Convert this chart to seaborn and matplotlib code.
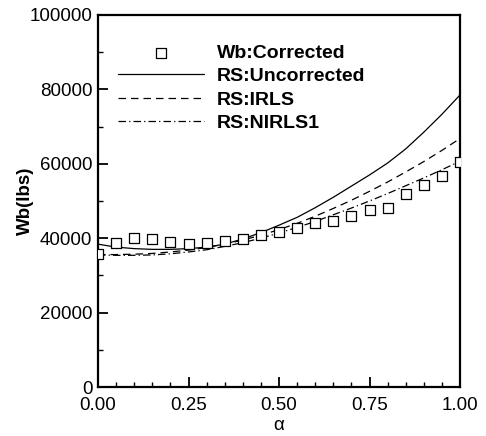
import numpy as np
import pandas as pd
import matplotlib
matplotlib.use("Agg")
import matplotlib.pyplot as plt
import seaborn as sns
from matplotlib.ticker import MultipleLocator

alpha = [0.00, 0.05, 0.10, 0.15, 0.20, 0.25, 0.30, 0.35, 0.40, 0.45, 0.50,
         0.55, 0.60, 0.65, 0.70, 0.75, 0.80, 0.85, 0.90, 0.95, 1.00]
wb_corrected = [35800, 38600, 40000, 39700, 39000, 38500, 38600, 39200, 39800, 40900, 41600,
                42700, 44000, 44700, 46100, 47600, 48200, 51800, 54200, 56700, 60500]
rs_uncorrected = [38400, 37600, 37200, 37000, 37000, 37200, 37600, 38400, 39800, 41500, 43500,
                  45600, 48200, 51000, 54000, 57000, 60200, 64000, 68500, 73300, 78500]
rs_irls = [35600, 35600, 35700, 35900, 36300, 36800, 37500, 38400, 39500, 40800, 42300,
           44000, 45900, 48000, 50200, 52600, 55100, 57800, 60600, 63600, 66800]
rs_nirls1 = [35500, 35400, 35400, 35500, 35800, 36300, 36900, 37800, 38800, 40000, 41400,
             42900, 44500, 46300, 48100, 50000, 52000, 54100, 56200, 58400, 60700]

sns.set_style("ticks", {'axes.edgecolor': 'black', 'text.color': 'black',
                        'axes.labelcolor': 'black', 'xtick.color': 'black',
                        'ytick.color': 'black'})
plt.rcParams['font.family'] = ['Liberation Sans', 'DejaVu Sans']
plt.rcParams['axes.linewidth'] = 1.6

fig = plt.figure(figsize=(4.86, 4.36), dpi=100)
ax = fig.add_axes([98/486, 49/436, 362/486, 372/436])

sns.scatterplot(x=alpha, y=wb_corrected, ax=ax, marker='s', s=55,
                facecolor='white', edgecolor='black', linewidth=0.9,
                label='Wb:Corrected', zorder=3)
sns.lineplot(x=alpha, y=rs_uncorrected, ax=ax, color='black', linewidth=0.9,
             label='RS:Uncorrected')
sns.lineplot(x=alpha, y=rs_irls, ax=ax, color='black', linewidth=0.9,
             label='RS:IRLS')
ax.lines[-1].set_dashes([6, 4])
sns.lineplot(x=alpha, y=rs_nirls1, ax=ax, color='black', linewidth=0.9,
             label='RS:NIRLS1')
ax.lines[-1].set_dashes([6, 2.5, 1, 2.5])

ax.set_xlim(0, 1)
ax.set_ylim(0, 100000)
ax.xaxis.set_major_locator(MultipleLocator(0.25))
ax.xaxis.set_minor_locator(MultipleLocator(0.05))
ax.yaxis.set_major_locator(MultipleLocator(20000))
ax.yaxis.set_minor_locator(MultipleLocator(10000))
ax.set_xticks([0, 0.25, 0.5, 0.75, 1.0])
ax.set_xticklabels(['0.00', '0.25', '0.50', '0.75', '1.00'])
ax.tick_params(axis='x', which='major', pad=7)
ax.tick_params(axis='y', which='major', pad=4)
ax.tick_params(which='major', direction='in', length=7, width=1.3, labelsize=13.5,
               colors='black')
ax.tick_params(which='minor', direction='in', length=3.5, width=1.0, colors='black')
ax.tick_params(top=False, right=False)
for s in ax.spines.values():
    s.set_visible(True)
    s.set_linewidth(1.6)
    s.set_color('black')

ax.set_xlabel('α', fontsize=13.5, labelpad=2, color='black')
ax.set_ylabel('Wb(lbs)', fontsize=13.5, fontweight='bold', labelpad=-3, color='black')

leg = ax.legend(loc='upper left', bbox_to_anchor=(0.055, 0.922), frameon=False,
                prop={'weight': 'bold', 'size': 14}, handlelength=4.45,
                handletextpad=0.65, labelspacing=0.3, borderpad=0, borderaxespad=0,
                scatterpoints=1)
for t in leg.get_texts():
    t.set_color('black')

fig.savefig('out.png', dpi=100)
